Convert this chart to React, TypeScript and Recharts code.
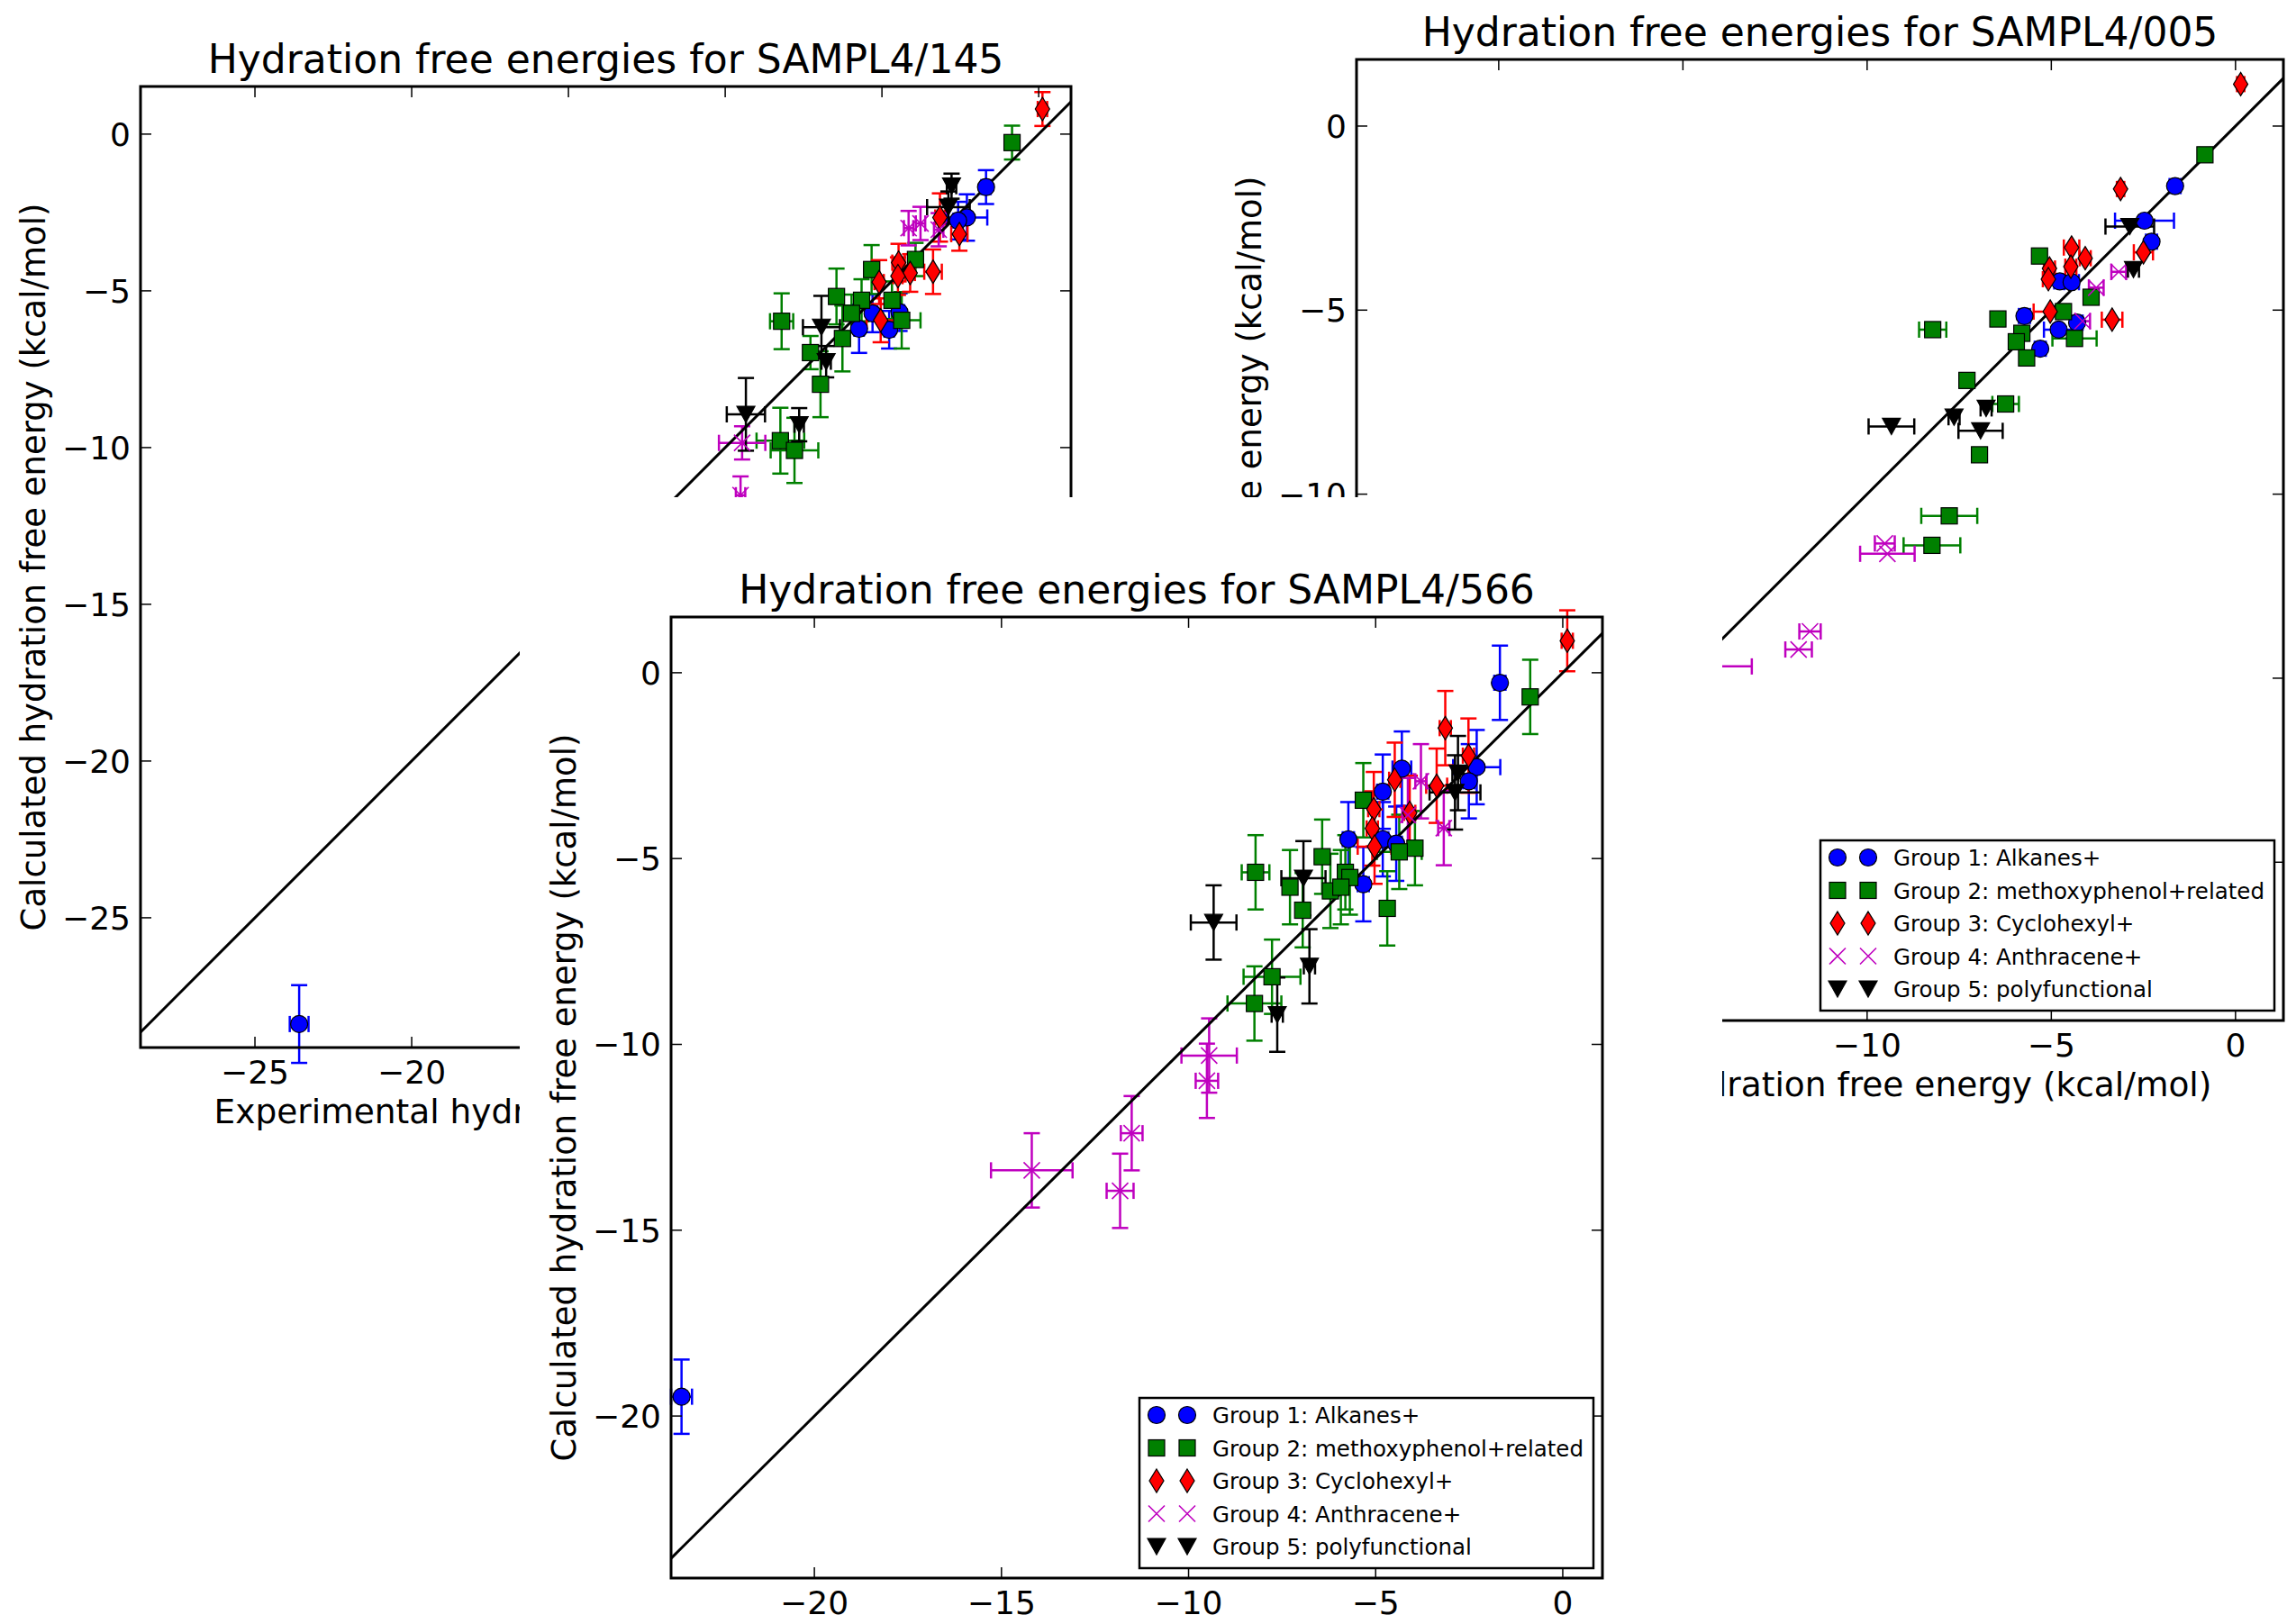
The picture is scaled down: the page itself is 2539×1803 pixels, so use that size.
import React from 'react';
import { ScatterChart, Scatter, XAxis, YAxis, ErrorBar, ReferenceLine } from 'recharts';

// each point: [experimental, calculated, expt error, calc error]
type Pt = [number, number, number, number?];

// ---- SAMPL4/145 ----
const alkanes145: Pt[] = [
  [-1.68, -1.69, 0.15, 0.54], [-2.29, -2.66, 0.65, 0.74], [-2.57, -2.76, 0.15, 0.6],
  [-5.73, -6.21, 0.15, 0.77], [-4.77, -6.24, 0.15, 0.6], [-4.44, -5.68, 0.15, 0.6],
  [-5.3, -5.72, 0.15, 0.6], [-23.59, -28.39, 0.3, 1.24],
];
const methoxy145: Pt[] = [
  [-0.85, -0.27, 0.15, 0.54], [-5.33, -4.32, 0.15, 0.78], [-3.93, -4.0, 0.15, 0.53],
  [-6.45, -5.18, 0.15, 0.89], [-5.65, -5.3, 0.15, 0.67], [-5.97, -5.72, 0.15, 0.6],
  [-4.68, -5.3, 0.15, 0.6], [-4.37, -5.94, 0.6, 0.9], [-8.2, -5.97, 0.37, 0.89],
  [-6.26, -6.52, 0.15, 1.05], [-7.28, -6.97, 0.15, 0.53], [-6.96, -7.98, 0.15, 1.05],
  [-8.24, -9.78, 0.76, 1.05], [-7.79, -10.09, 0.76, 1.04],
];
const cyclohexyl145: Pt[] = [
  [0.12, 0.8, 0.15, 0.54], [-3.15, -2.66, 0.15, 0.77], [-2.53, -3.19, 0.26, 0.53],
  [-4.47, -4.1, 0.2, 0.6], [-4.1, -4.43, 0.15, 0.6], [-4.49, -4.53, 0.15, 0.6],
  [-3.37, -4.39, 0.28, 0.71], [-5.09, -4.72, 0.15, 0.7], [-5.04, -5.94, 0.45, 0.7],
];
const anthracene145: Pt[] = [
  [-4.15, -3.0, 0.15, 0.55], [-3.77, -2.85, 0.15, 0.53], [-3.19, -3.05, 0.15, 0.53],
  [-9.46, -9.85, 0.74, 0.53], [-9.51, -11.52, 0.15, 0.6],
];
const polyfunc145: Pt[] = [
  [-2.78, -1.66, 0.15, 0.4], [-2.88, -2.33, 0.68, 0.5], [-6.93, -6.16, 0.59, 1.0],
  [-6.78, -7.26, 0.15, 0.5], [-9.34, -8.94, 0.61, 1.16], [-7.64, -9.27, 0.15, 0.53],
];

// ---- SAMPL4/005 (no calc error bars) ----
const alkanes005: Pt[] = [
  [-1.64, -1.63, 0.15], [-2.47, -2.57, 0.8], [-2.28, -3.14, 0.15], [-4.77, -4.22, 0.15],
  [-4.45, -4.24, 0.2], [-5.73, -5.16, 0.15], [-4.3, -5.34, 0.15], [-4.8, -5.53, 0.4],
  [-5.3, -6.05, 0.15],
];
const methoxy005: Pt[] = [
  [-0.83, -0.78, 0.15], [-5.32, -3.53, 0.15], [-3.92, -4.65, 0.15], [-4.67, -5.04, 0.15],
  [-6.45, -5.24, 0.15], [-8.22, -5.53, 0.37], [-5.8, -5.63, 0.15], [-4.37, -5.77, 0.6],
  [-5.95, -5.86, 0.15], [-5.67, -6.3, 0.15], [-7.29, -6.91, 0.15], [-6.24, -7.55, 0.36],
  [-6.95, -8.93, 0.15], [-7.77, -10.59, 0.76], [-8.24, -11.39, 0.77],
];
const cyclohexyl005: Pt[] = [
  [0.14, 1.14, 0.1], [-3.12, -1.71, 0.1], [-2.5, -3.43, 0.26], [-4.45, -3.3, 0.21],
  [-4.08, -3.59, 0.15], [-4.47, -3.82, 0.15], [-5.05, -3.87, 0.15], [-5.08, -4.16, 0.15],
  [-5.03, -5.04, 0.45], [-3.35, -5.26, 0.28],
];
const anthracene005: Pt[] = [
  [-3.17, -3.96, 0.2], [-3.78, -4.39, 0.2], [-4.15, -5.3, 0.2], [-9.52, -11.34, 0.27],
  [-9.45, -11.62, 0.74], [-11.55, -13.73, 0.29], [-11.86, -14.22, 0.36], [-14.2, -14.68, 1.07],
];
const polyfunc005: Pt[] = [
  [-2.87, -2.73, 0.66], [-2.77, -3.9, 0.15], [-9.34, -8.16, 0.62], [-7.64, -7.91, 0.15],
  [-6.77, -7.67, 0.15], [-6.92, -8.28, 0.6],
];

// ---- SAMPL4/566 ----
const alkanes566: Pt[] = [
  [-1.68, -0.27, 0.15, 1.0], [-2.3, -2.54, 0.63, 1.0], [-2.51, -2.92, 0.15, 1.0],
  [-4.3, -2.58, 0.25, 1.0], [-4.81, -3.2, 0.15, 1.0], [-5.73, -4.48, 0.15, 1.0],
  [-4.81, -4.48, 0.15, 1.0], [-4.45, -4.6, 0.15, 1.0], [-5.33, -5.69, 0.15, 1.0],
  [-23.55, -19.48, 0.28, 1.0],
];
const methoxy566: Pt[] = [
  [-0.87, -0.65, 0.15, 1.0], [-5.33, -3.43, 0.15, 1.0], [-3.95, -4.72, 0.15, 1.0],
  [-4.37, -4.82, 0.6, 1.0], [-6.43, -4.95, 0.15, 1.0], [-8.21, -5.37, 0.37, 1.0],
  [-7.29, -5.77, 0.15, 1.0], [-5.81, -5.37, 0.15, 1.0], [-5.69, -5.51, 0.15, 1.0],
  [-6.21, -5.87, 0.15, 1.0], [-5.93, -5.77, 0.15, 1.0], [-6.95, -6.39, 0.15, 1.0],
  [-4.69, -6.34, 0.15, 1.0], [-7.77, -8.18, 0.76, 1.0], [-8.24, -8.9, 0.72, 1.0],
];
const cyclohexyl566: Pt[] = [
  [0.12, 0.86, 0.15, 0.82], [-3.14, -1.49, 0.15, 1.0], [-2.52, -2.23, 0.15, 1.0],
  [-3.37, -3.04, 0.28, 1.0], [-4.49, -2.88, 0.15, 1.0], [-4.09, -3.77, 0.15, 1.0],
  [-5.05, -3.67, 0.15, 1.0], [-5.09, -4.19, 0.15, 1.0], [-5.03, -4.68, 0.45, 1.0],
];
const anthracene566: Pt[] = [
  [-3.79, -2.92, 0.15, 1.0], [-4.14, -3.83, 0.15, 1.0], [-3.18, -4.18, 0.15, 1.0],
  [-9.45, -10.3, 0.74, 1.0], [-9.51, -10.98, 0.3, 1.0], [-14.19, -13.39, 1.09, 1.0],
  [-11.83, -13.94, 0.36, 1.0], [-11.52, -12.39, 0.29, 1.0],
];
const polyfunc566: Pt[] = [
  [-2.8, -2.7, 0.15, 1.0], [-2.88, -3.22, 0.68, 1.0], [-9.33, -6.72, 0.61, 1.0],
  [-6.93, -5.53, 0.59, 1.0], [-6.77, -7.9, 0.15, 1.0], [-7.63, -9.2, 0.15, 1.0],
];

const groupNames = [
  'Group 1: Alkanes+',
  'Group 2: methoxyphenol+related',
  'Group 3: Cyclohexyl+',
  'Group 4: Anthracene+',
  'Group 5: polyfunctional',
];
const groupColors = ['#0000ff', '#008000', '#ff0000', '#bf00bf', '#000000'];
const groupMarkers = ['circle', 'square', 'diamond', 'x', 'triDown'];

const ticks145X = [-25, -20, -15, -10, -5, 0];
const ticks145Y = [0, -5, -10, -15, -20, -25];
const ticks005X = [-20, -15, -10, -5, 0];
const ticks005Y = [0, -5, -10, -15, -20];
const ticks566X = [-20, -15, -10, -5, 0];
const ticks566Y = [0, -5, -10, -15, -20];

const xLabel = 'Experimental hydration free energy (kcal/mol)';
const yLabel = 'Calculated hydration free energy (kcal/mol)';
const FONT = '"DejaVu Sans", sans-serif';

const fmt = (v: number) => (v < 0 ? `\u2212${Math.abs(v)}` : `${v}`);

function Marker({ kind, cx, cy, color }: { kind: string; cx: number; cy: number; color: string }) {
  if (cx == null || cy == null) return null;
  switch (kind) {
    case 'circle':
      return <circle cx={cx} cy={cy} r={9.5} fill={color} stroke="#000" strokeWidth={1.2} />;
    case 'square':
      return <rect x={cx - 9} y={cy - 9} width={18} height={18} fill={color} stroke="#000" strokeWidth={1.2} />;
    case 'diamond':
      return (
        <polygon
          points={`${cx},${cy - 13} ${cx + 8},${cy} ${cx},${cy + 13} ${cx - 8},${cy}`}
          fill={color}
          stroke="#000"
          strokeWidth={1.2}
        />
      );
    case 'x':
      return (
        <path
          d={`M${cx - 9},${cy - 9}L${cx + 9},${cy + 9}M${cx - 9},${cy + 9}L${cx + 9},${cy - 9}`}
          stroke={color}
          strokeWidth={1.6}
          fill="none"
        />
      );
    default:
      return (
        <polygon
          points={`${cx - 10},${cy - 9} ${cx + 10},${cy - 9} ${cx},${cy + 9}`}
          fill={color}
          stroke="#000"
          strokeWidth={1.2}
        />
      );
  }
}

const bottomTick = (p: any) => (
  <g>
    <line x1={p.x} y1={p.y} x2={p.x} y2={p.y - 12} stroke="#000" strokeWidth={1.5} />
    <text x={p.x} y={p.y + 40} textAnchor="middle" fontSize={36} fontFamily={FONT} fill="#000">
      {fmt(p.payload.value)}
    </text>
  </g>
);
const topTick = (p: any) => <line x1={p.x} y1={p.y} x2={p.x} y2={p.y + 12} stroke="#000" strokeWidth={1.5} />;
const leftTick = (p: any) => (
  <g>
    <line x1={p.x} y1={p.y} x2={p.x + 12} y2={p.y} stroke="#000" strokeWidth={1.5} />
    <text x={p.x - 11} y={p.y + 13} textAnchor="end" fontSize={36} fontFamily={FONT} fill="#000">
      {fmt(p.payload.value)}
    </text>
  </g>
);
const rightTick = (p: any) => <line x1={p.x} y1={p.y} x2={p.x - 12} y2={p.y} stroke="#000" strokeWidth={1.5} />;

interface PanelProps {
  title: string;
  box: { left: number; top: number; w: number; h: number };
  plot: { l: number; t: number; w: number; h: number };
  xDomain: [number, number];
  yDomain: [number, number];
  xTicks: number[];
  yTicks: number[];
  groups: Pt[][];
  showYErr: boolean;
}

function Panel({ title, box, plot, xDomain, yDomain, xTicks, yTicks, groups, showYErr }: PanelProps) {
  const leftW = 100;
  const bottomH = 50;
  const margin = {
    left: plot.l - leftW,
    top: plot.t - 1,
    right: box.w - (plot.l + plot.w) - 1,
    bottom: box.h - (plot.t + plot.h) - bottomH,
  };
  const lo = Math.max(xDomain[0], yDomain[0]);
  const hi = Math.min(xDomain[1], yDomain[1]);
  const legW = 504;
  const legH = 189;
  const legL = plot.l + plot.w - 10 - legW;
  const legT = plot.t + plot.h - 11 - legH;

  return (
    <div
      style={{
        position: 'absolute',
        left: box.left,
        top: box.top,
        width: box.w,
        height: box.h,
        background: '#fff',
        overflow: 'hidden',
      }}
    >
      <ScatterChart width={box.w} height={box.h} margin={margin}>
        <XAxis
          xAxisId="b"
          type="number"
          dataKey="x"
          domain={xDomain}
          ticks={xTicks}
          interval={0}
          allowDataOverflow
          axisLine={false}
          tickLine={false}
          tickSize={0}
          tickMargin={0}
          height={bottomH}
          tick={bottomTick}
        />
        <XAxis
          xAxisId="t"
          orientation="top"
          type="number"
          dataKey="x"
          domain={xDomain}
          ticks={xTicks}
          interval={0}
          allowDataOverflow
          axisLine={false}
          tickLine={false}
          tickSize={0}
          tickMargin={0}
          height={1}
          tick={topTick}
        />
        <YAxis
          yAxisId="l"
          type="number"
          dataKey="y"
          domain={yDomain}
          ticks={yTicks}
          interval={0}
          allowDataOverflow
          axisLine={false}
          tickLine={false}
          tickSize={0}
          tickMargin={0}
          width={leftW}
          tick={leftTick}
        />
        <YAxis
          yAxisId="r"
          orientation="right"
          type="number"
          dataKey="y"
          domain={yDomain}
          ticks={yTicks}
          interval={0}
          allowDataOverflow
          axisLine={false}
          tickLine={false}
          tickSize={0}
          tickMargin={0}
          width={1}
          tick={rightTick}
        />
        {groups.map((pts, i) => (
          <Scatter
            key={groupNames[i]}
            name={groupNames[i]}
            data={pts.map(([x, y, ex, ey]) => ({ x, y, ex, ey: ey ?? 0 }))}
            xAxisId="b"
            yAxisId="l"
            isAnimationActive={false}
            shape={(p: any) => <Marker kind={groupMarkers[i]} cx={p.cx} cy={p.cy} color={groupColors[i]} />}
          >
            <ErrorBar dataKey="ex" direction="x" width={9} stroke={groupColors[i]} strokeWidth={2.5} />
            {showYErr && <ErrorBar dataKey="ey" direction="y" width={9} stroke={groupColors[i]} strokeWidth={2.5} />}
          </Scatter>
        ))}
        <ReferenceLine
          xAxisId="b"
          yAxisId="l"
          segment={[
            { x: lo, y: lo },
            { x: hi, y: hi },
          ]}
          stroke="#000"
          strokeWidth={3}
          ifOverflow="visible"
        />
      </ScatterChart>
      <svg
        width={box.w}
        height={box.h}
        style={{ position: 'absolute', left: 0, top: 0, pointerEvents: 'none' }}
        fontFamily={FONT}
      >
        <rect x={plot.l} y={plot.t} width={plot.w} height={plot.h} fill="none" stroke="#000" strokeWidth={3} />
        <text x={plot.l + plot.w / 2} y={plot.t - 15} textAnchor="middle" fontSize={44} fill="#000">
          {title}
        </text>
        <text x={plot.l + plot.w / 2} y={plot.t + plot.h + 84} textAnchor="middle" fontSize={37.5} fill="#000">
          {xLabel}
        </text>
        <text
          transform={`translate(${plot.l - 106},${plot.t + plot.h / 2}) rotate(-90)`}
          textAnchor="middle"
          fontSize={37}
          fill="#000"
        >
          {yLabel}
        </text>
        <g>
          <rect x={legL} y={legT} width={legW} height={legH} fill="#fff" stroke="#000" strokeWidth={2.5} />
          {groupNames.map((name, i) => {
            const cy = legT + 19 + i * 36.5;
            return (
              <g key={name}>
                <Marker kind={groupMarkers[i]} cx={legL + 19} cy={cy} color={groupColors[i]} />
                <Marker kind={groupMarkers[i]} cx={legL + 53} cy={cy} color={groupColors[i]} />
                <text x={legL + 81} y={cy + 9} fontSize={24.5} fill="#000">
                  {name}
                </text>
              </g>
            );
          })}
        </g>
      </svg>
    </div>
  );
}

export default function App() {
  return (
    <div style={{ position: 'absolute', left: 0, top: 0, width: 2539, height: 1803, background: '#fff', overflow: 'hidden' }}>
      <Panel
        title="Hydration free energies for SAMPL4/145"
        box={{ left: 0, top: 0, w: 1250, h: 1300 }}
        plot={{ l: 156, t: 96, w: 1033, h: 1067 }}
        xDomain={[-28.65, 1.03]}
        yDomain={[-29.14, 1.52]}
        xTicks={ticks145X}
        yTicks={ticks145Y}
        groups={[alkanes145, methoxy145, cyclohexyl145, anthracene145, polyfunc145]}
        showYErr
      />
      <Panel
        title="Hydration free energies for SAMPL4/005"
        box={{ left: 1300, top: 0, w: 1239, h: 1250 }}
        plot={{ l: 206, t: 66, w: 1029, h: 1067 }}
        xDomain={[-23.86, 1.3]}
        yDomain={[-24.3, 1.81]}
        xTicks={ticks005X}
        yTicks={ticks005Y}
        groups={[alkanes005, methoxy005, cyclohexyl005, anthracene005, polyfunc005]}
        showYErr={false}
      />
      <Panel
        title="Hydration free energies for SAMPL4/566"
        box={{ left: 577, top: 552, w: 1335, h: 1251 }}
        plot={{ l: 168, t: 133, w: 1034, h: 1067 }}
        xDomain={[-23.83, 1.06]}
        yDomain={[-24.36, 1.5]}
        xTicks={ticks566X}
        yTicks={ticks566Y}
        groups={[alkanes566, methoxy566, cyclohexyl566, anthracene566, polyfunc566]}
        showYErr
      />
    </div>
  );
}
